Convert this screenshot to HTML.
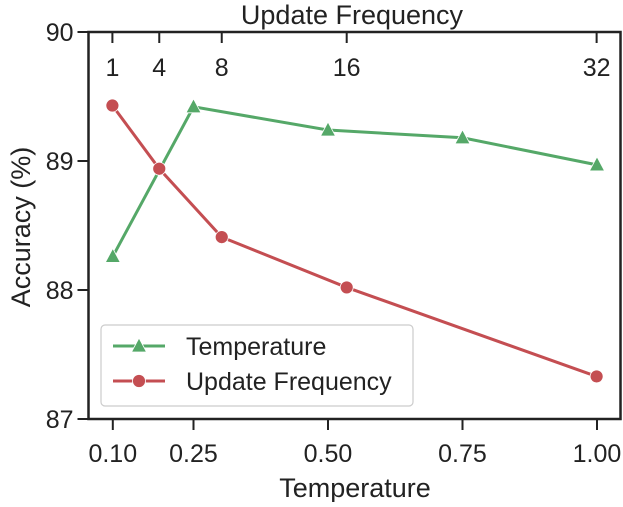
<!DOCTYPE html>
<html><head><meta charset="utf-8"><style>
html,body{margin:0;padding:0;background:#fff;}
svg text{font-family:"Liberation Sans",sans-serif;fill:#222;}
</style></head><body>
<svg id="chart" width="623" height="502" xmlns="http://www.w3.org/2000/svg">
<g id="axes"></g>
<g id="series"></g>
<g id="legend"></g>
</svg>
<script>
const tempX = [0.10, 0.25, 0.50, 0.75, 1.00];
const tempAcc = [88.26, 89.42, 89.24, 89.18, 88.97];
const freqX = [1, 4, 8, 16, 32];
const freqAcc = [89.43, 88.94, 88.41, 88.02, 87.33];
const bottomTicks = ["0.10", "0.25", "0.50", "0.75", "1.00"];
const topTicks = [1, 4, 8, 16, 32];
const yTicks = [87, 88, 89, 90];

const L = 88.5, R = 620.5, T = 32, B = 419;
const xT = t => 59 + 538 * t;
const xF = f => 112.4 + 15.62 * (f - 1);
const yA = v => B - (v - 87) * (B - T) / 3;
const NS = "http://www.w3.org/2000/svg";
function mk(tag, attrs, parent, txt) {
  const e = document.createElementNS(NS, tag);
  for (const k in attrs) e.setAttribute(k, attrs[k]);
  if (txt !== undefined) e.textContent = txt;
  parent.appendChild(e);
  return e;
}
const axes = document.getElementById('axes');
const series = document.getElementById('series');
const legend = document.getElementById('legend');

let fr = mk('rect', {x: L, y: T, width: R - L, height: B - T, fill: 'none', stroke: '#222', 'stroke-width': 2.5}, axes);



yTicks.forEach(v => {
  const y = yA(v);
  const l = mk('line', {x1: L - 11, x2: L, y1: y, y2: y, stroke: '#222', 'stroke-width': 2}, axes);
  
  
  const t = mk('text', {x: L - 15, y: y + 9, 'text-anchor': 'end', 'font-size': 25}, axes, String(v));
  
  
});
bottomTicks.forEach(s => {
  const x = xT(parseFloat(s));
  const l = mk('line', {x1: x, x2: x, y1: B, y2: B + 11, stroke: '#222', 'stroke-width': 2}, axes);
  
  
  const t = mk('text', {x: x, y: B + 43, 'text-anchor': 'middle', 'font-size': 25}, axes, s);
  
  
});
topTicks.forEach(f => {
  const x = xF(f);
  const l = mk('line', {x1: x, x2: x, y1: T, y2: T + 11, stroke: '#222', 'stroke-width': 2}, axes);
  
  
  const t = mk('text', {x: x, y: T + 44, 'text-anchor': 'middle', 'font-size': 25}, axes, String(f));
  
  
});
let t1 = mk('text', {x: 352, y: 24, 'text-anchor': 'middle', 'font-size': 27}, axes, 'Update Frequency');


let t2 = mk('text', {x: 355, y: 497, 'text-anchor': 'middle', 'font-size': 27}, axes, 'Temperature');


let t3 = mk('text', {x: 0, y: 0, 'text-anchor': 'middle', 'font-size': 27, transform: 'translate(30,227) rotate(-90)'}, axes, 'Accuracy (%)');



const G = '#55a868', Rd = '#c44e52';
function tri(x, y, parent) {
  return mk('polygon', {points: `${x},${y-8} ${x-7.5},${y+6} ${x+7.5},${y+6}`, fill: G, stroke: '#fff', 'stroke-width': 0.8}, parent);
}
let gl = mk('polyline', {points: tempX.map((t, i) => xT(t) + ',' + yA(tempAcc[i])).join(' '), fill: 'none', stroke: G, 'stroke-width': 3}, series);


let rl = mk('polyline', {points: freqX.map((f, i) => xF(f) + ',' + yA(freqAcc[i])).join(' '), fill: 'none', stroke: Rd, 'stroke-width': 3}, series);


tempX.forEach((t, i) => {
  const p = tri(xT(t), yA(tempAcc[i]), series);
  
  
});
freqX.forEach((f, i) => {
  const c = mk('circle', {cx: xF(f), cy: yA(freqAcc[i]), r: 6.5, fill: Rd, stroke: '#fff', 'stroke-width': 0.8}, series);
  
  
});

let lb = mk('rect', {x: 101, y: 325, width: 312, height: 81, rx: 4, fill: '#fff', 'fill-opacity': 0.85, stroke: '#ccc', 'stroke-width': 1.2}, legend);


let e1 = mk('line', {x1: 113, x2: 165, y1: 346, y2: 346, stroke: G, 'stroke-width': 3}, legend);


let m1 = tri(139, 346, legend);


let lt1 = mk('text', {x: 186, y: 355, 'font-size': 25}, legend, 'Temperature');


let e2 = mk('line', {x1: 113, x2: 165, y1: 381, y2: 381, stroke: Rd, 'stroke-width': 3}, legend);


let m2 = mk('circle', {cx: 139, cy: 381, r: 6.5, fill: Rd, stroke: '#fff', 'stroke-width': 0.8}, legend);


let lt2 = mk('text', {x: 186, y: 390, 'font-size': 25}, legend, 'Update Frequency');


</script>
</body></html>
